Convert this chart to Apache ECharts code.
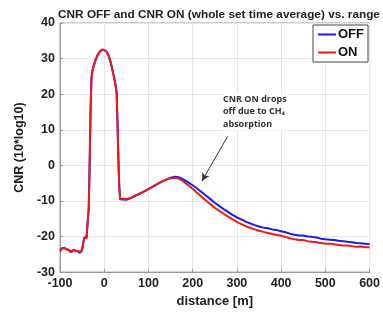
<!DOCTYPE html>
<html><head><meta charset="utf-8">
<script src="https://cdn.jsdelivr.net/npm/echarts@6/dist/echarts.min.js"></script>
<style>html,body{margin:0;padding:0;background:#fff}#c{width:383px;height:313px}</style>
</head><body><div id="c"></div>
<script>
const distance = [-100,-95,-90,-85,-80,-75,-70,-65,-60,-55,-50,-47,-45,-40,-38,-37,-35,-33,-31,-29,-27,-20,-15,-10,-5,0,5,10,15,20,25,28,30,32,34,36,40,50,60,70,80,90,100,110,120,130,140,150,160,170,180,190,200,210,220,230,240,250,260,270,280,290,300,310,320,330,340,350,360,370,380,390,400,410,420,430,440,450,460,470,480,490,500,510,520,530,540,550,560,570,580,590,600];
const cnrOff = [-23.8,-23.3,-23.2,-23.6,-23.8,-24.4,-23.8,-24.0,-24.1,-24.6,-23.9,-21.5,-20.3,-20.4,-20.2,-20,-12,0,15,24,26.5,29.5,31,32,32.5,32.4,32,30.8,28.8,26,23,20.5,12,2,-6,-9.5,-10.0,-9.7,-9.2,-8.6,-8.0,-7.4,-6.7,-6.0,-5.3,-4.6,-4.0,-3.5,-3.2,-3.4,-4.0,-4.8,-5.6,-6.5,-7.5,-8.5,-9.5,-10.5,-11.4,-12.3,-13.1,-13.9,-14.6,-15.2,-15.8,-16.3,-16.8,-17.2,-17.5,-17.7,-18.0,-18.2,-18.5,-18.8,-19.2,-19.5,-19.7,-19.7,-20.0,-20.1,-20.3,-20.6,-20.8,-20.9,-21.0,-21.2,-21.3,-21.5,-21.6,-21.8,-21.9,-22.0,-22.2];
const cnrOn = [-24.2,-23.3,-23.2,-23.6,-23.8,-24.4,-23.8,-24.0,-24.1,-24.3,-23.7,-21.5,-20.3,-20.4,-20.2,-20,-12,0,15,24,26.5,29.5,31,32,32.5,32.4,32,30.8,28.8,26,23,20.5,12,2,-6,-9.3,-9.8,-9.5,-9.1,-8.5,-7.9,-7.3,-6.6,-5.9,-5.2,-4.6,-4.0,-3.6,-3.5,-3.8,-4.6,-5.6,-6.6,-7.7,-8.8,-9.9,-10.9,-11.9,-12.8,-13.6,-14.4,-15.2,-15.9,-16.5,-17.1,-17.6,-18.0,-18.4,-18.7,-19.0,-19.3,-19.6,-19.8,-20.1,-20.5,-20.8,-21.0,-21.0,-21.3,-21.5,-21.6,-21.8,-22.0,-22.0,-22.2,-22.4,-22.5,-22.5,-22.7,-22.9,-22.8,-23.0,-23.0];
const seriesNames = ['OFF','ON'];
const titleText = 'CNR OFF and CNR ON (whole set time average) vs. range';
const annotationLines = ['CNR ON drops','off due to CH\u2084','absorption'];
const arrowFrom = [279, 8.1];
const arrowTo = [221, -4.4];

const chart = echarts.init(document.getElementById('c'));
const pair = arr => distance.map((d,i)=>[d,arr[i]]);
const F = 'Liberation Sans, Arial, sans-serif';
chart.setOption({
  animation:false,
  title:{text:titleText,left:214,top:4,textAlign:'center',textStyle:{fontFamily:F,fontSize:11.8,fontWeight:'bold',color:'#222'}},
  grid:{left:60,right:13,top:23,bottom:39,show:true,borderColor:'#999',borderWidth:1,backgroundColor:'#fff'},
  legend:{data:seriesNames,orient:'vertical',right:15,top:25,itemWidth:18,itemHeight:2,itemGap:5,
    borderColor:'#444',borderWidth:1,padding:[3,4,3,4],backgroundColor:'#fff',
    textStyle:{fontFamily:F,fontSize:13,fontWeight:'bold',color:'#111',padding:[0,0,0,-3]}},
  xAxis:{type:'value',min:-100,max:600,interval:100,name:'distance [m]',nameLocation:'middle',nameGap:21,
    nameTextStyle:{fontFamily:F,fontSize:13,fontWeight:'bold',color:'#222'},
    axisLine:{onZero:false,lineStyle:{color:'#999'}},axisTick:{inside:true,length:3,lineStyle:{color:'#999'}},
    axisLabel:{fontFamily:F,fontSize:12.5,fontWeight:'bold',color:'#222',margin:5},
    splitLine:{lineStyle:{color:'#e6e6e6'}}},
  yAxis:{type:'value',min:-30,max:40,interval:10,name:'CNR (10*log10)',nameLocation:'middle',nameGap:26,
    nameTextStyle:{fontFamily:F,fontSize:12.5,fontWeight:'bold',color:'#222'},
    axisLine:{show:true,onZero:false,lineStyle:{color:'#999'}},axisTick:{show:true,inside:true,length:3,lineStyle:{color:'#999'}},
    axisLabel:{fontFamily:F,fontSize:12.5,fontWeight:'bold',color:'#222',margin:5},
    splitLine:{lineStyle:{color:'#e6e6e6'}}},
  series:[
    {name:seriesNames[0],type:'line',data:pair(cnrOff),symbol:'none',lineStyle:{color:'#1a1aee',width:2},itemStyle:{color:'#1a1aee'},z:2},
    {name:seriesNames[1],type:'line',data:pair(cnrOn),symbol:'none',lineStyle:{color:'#ee1a1a',width:2},itemStyle:{color:'#ee1a1a'},z:3,
     markLine:{silent:true,symbol:['none','arrow'],symbolSize:[6,8],label:{show:false},
       lineStyle:{color:'#333',width:1,type:'solid'},
       data:[[{coord:arrowFrom},{coord:arrowTo}]]}}
  ],
  graphic:[{type:'text',left:223,top:93,z:10,style:{text:annotationLines.join('\n'),fontFamily:'Open Sans, sans-serif',fontSize:9,fontWeight:'bold',fill:'#333',lineHeight:12.5,backgroundColor:'#fff'}}]
});
</script></body></html>
